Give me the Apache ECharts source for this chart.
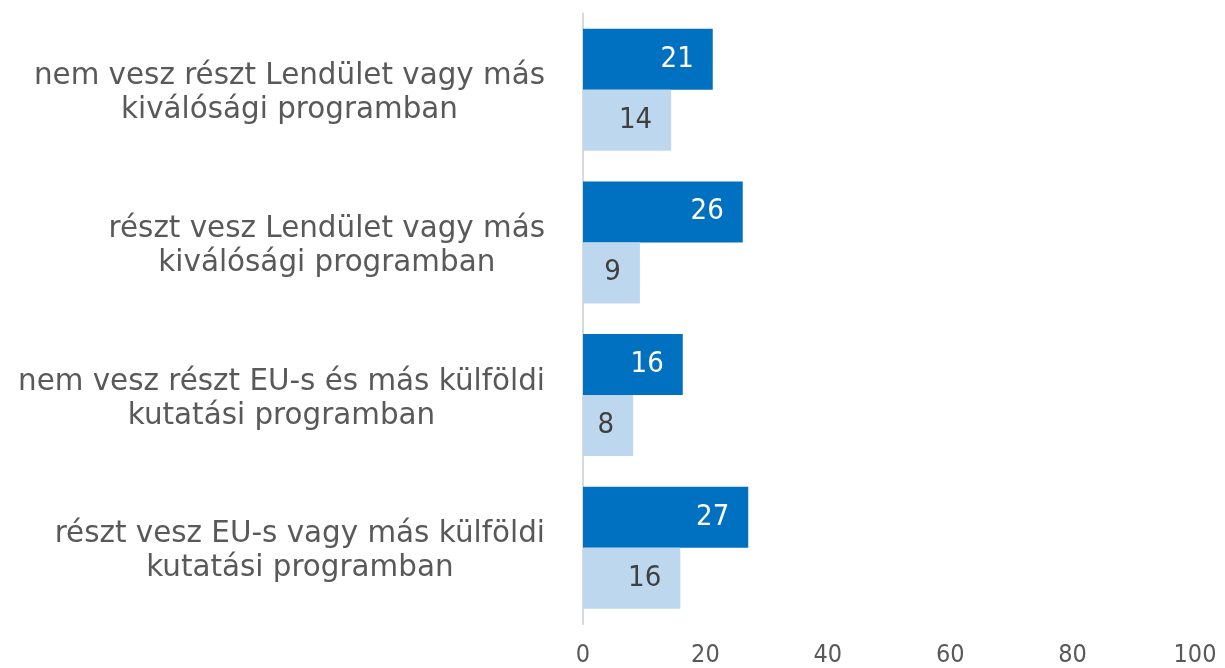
<!DOCTYPE html>
<html>
<head>
<meta charset="utf-8">
<style>
  html, body { margin: 0; padding: 0; background: #fff; }
  #chart { width: 1225px; height: 668px; }
</style>
<script src="https://cdn.jsdelivr.net/npm/echarts@6/dist/echarts.min.js"></script>
</head>
<body>
<div id="chart"></div>
<script>
// categories, top to bottom
const categories = [
  "nem vesz részt Lendület vagy más\nkiválósági programban",
  "részt vesz Lendület vagy más\nkiválósági programban",
  "nem vesz részt EU-s és más külföldi\nkutatási programban",
  "részt vesz EU-s vagy más külföldi\nkutatási programban"
];
const darkValues = [21.2, 26.1, 16.3, 27.0];
const lightValues = [14.4, 9.3, 8.2, 15.9];
const xTicks = [0, 20, 40, 60, 80, 100];

const font = "DejaVu Sans";
const numFont = "'DejaVu Sans Condensed', 'DejaVu Sans'";
const chart = echarts.init(document.getElementById("chart"), null, { renderer: "canvas" });

const valueLabel = (color) => ({
  show: true,
  position: "insideRight",
  distance: 19,
  color: color,
  fontFamily: numFont,
  fontSize: 29,
  formatter: (p) => Math.round(p.value)
});

chart.setOption({
  animation: false,
  grid: { left: 583, right: 30, top: 13.5, bottom: 42, containLabel: false },
  xAxis: {
    type: "value",
    min: xTicks[0],
    max: xTicks[xTicks.length - 1],
    interval: 20,
    axisLine: { show: false },
    axisTick: { show: false },
    splitLine: { show: false },
    axisLabel: { color: "#595959", fontFamily: numFont, fontSize: 25, margin: 19 }
  },
  yAxis: {
    type: "category",
    inverse: true,
    data: categories,
    axisLine: { show: true, lineStyle: { color: "#d9d9d9", width: 2 } },
    axisTick: { show: false },
    axisLabel: {
      margin: 38,
      color: "#595959",
      fontFamily: font,
      fontSize: 29.4,
      lineHeight: 34,
      padding: [8, 0, 0, 0],
      formatter: (v) => v.split("\n").map((l) => "{c|" + l + "}").join("\n"),
      rich: {
        c: { align: "center", color: "#595959", fontFamily: font, fontSize: 29.4, lineHeight: 34 }
      }
    }
  },
  series: [
    {
      type: "bar",
      data: darkValues,
      barGap: "0%",
      barCategoryGap: "20%",
      itemStyle: { color: "#0070c0" },
      label: valueLabel("#ffffff")
    },
    {
      type: "bar",
      data: lightValues,
      barGap: "0%",
      barCategoryGap: "20%",
      itemStyle: { color: "#bdd7ee" },
      label: valueLabel("#404040")
    }
  ]
});
</script>
</body>
</html>
